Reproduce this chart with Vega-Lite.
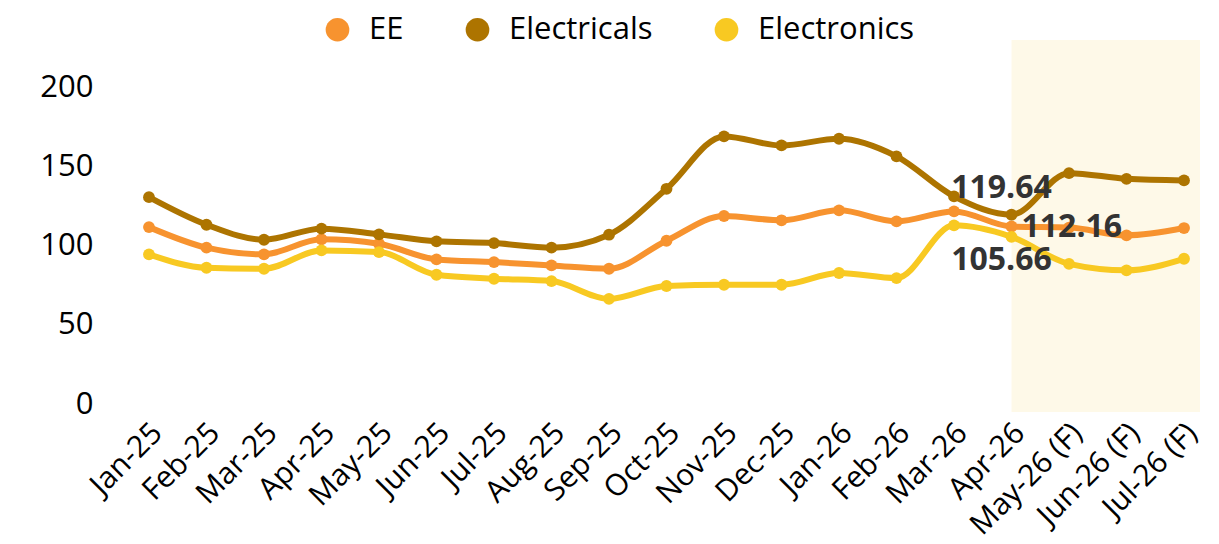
{
  "$schema": "https://vega.github.io/schema/vega-lite/v6.json",
  "width": 1067,
  "height": 372,
  "autosize": {"type": "none"},
  "padding": {"left": 133, "top": 40, "right": 19, "bottom": 132},
  "background": "white",
  "config": {"view": {"stroke": null}, "font": "Open Sans"},
  "datasets": {
    "main": [
      {"month": "Jan-25", "series": "EE", "value": 111.8},
      {"month": "Feb-25", "series": "EE", "value": 98.8},
      {"month": "Mar-25", "series": "EE", "value": 94.6},
      {"month": "Apr-25", "series": "EE", "value": 104.1},
      {"month": "May-25", "series": "EE", "value": 101.3},
      {"month": "Jun-25", "series": "EE", "value": 91.4},
      {"month": "Jul-25", "series": "EE", "value": 89.7},
      {"month": "Aug-25", "series": "EE", "value": 87.6},
      {"month": "Sep-25", "series": "EE", "value": 85.5},
      {"month": "Oct-25", "series": "EE", "value": 103.2},
      {"month": "Nov-25", "series": "EE", "value": 118.8},
      {"month": "Dec-25", "series": "EE", "value": 116.1},
      {"month": "Jan-26", "series": "EE", "value": 122.4},
      {"month": "Feb-26", "series": "EE", "value": 115.4},
      {"month": "Mar-26", "series": "EE", "value": 121.7},
      {"month": "Apr-26", "series": "EE", "value": 112.16},
      {"month": "May-26 (F)", "series": "EE", "value": 111.5},
      {"month": "Jun-26 (F)", "series": "EE", "value": 106.6},
      {"month": "Jul-26 (F)", "series": "EE", "value": 111.2},
      {"month": "Jan-25", "series": "Electricals", "value": 130.7},
      {"month": "Feb-25", "series": "Electricals", "value": 113.3},
      {"month": "Mar-25", "series": "Electricals", "value": 103.8},
      {"month": "Apr-25", "series": "Electricals", "value": 110.8},
      {"month": "May-25", "series": "Electricals", "value": 107.2},
      {"month": "Jun-25", "series": "Electricals", "value": 102.8},
      {"month": "Jul-25", "series": "Electricals", "value": 101.7},
      {"month": "Aug-25", "series": "Electricals", "value": 98.8},
      {"month": "Sep-25", "series": "Electricals", "value": 107.0},
      {"month": "Oct-25", "series": "Electricals", "value": 136.0},
      {"month": "Nov-25", "series": "Electricals", "value": 169.1},
      {"month": "Dec-25", "series": "Electricals", "value": 163.4},
      {"month": "Jan-26", "series": "Electricals", "value": 167.6},
      {"month": "Feb-26", "series": "Electricals", "value": 156.5},
      {"month": "Mar-26", "series": "Electricals", "value": 131.2},
      {"month": "Apr-26", "series": "Electricals", "value": 119.64},
      {"month": "May-26 (F)", "series": "Electricals", "value": 145.9},
      {"month": "Jun-26 (F)", "series": "Electricals", "value": 142.3},
      {"month": "Jul-26 (F)", "series": "Electricals", "value": 141.3},
      {"month": "Jan-25", "series": "Electronics", "value": 94.6},
      {"month": "Feb-25", "series": "Electronics", "value": 86.1},
      {"month": "Mar-25", "series": "Electronics", "value": 85.5},
      {"month": "Apr-25", "series": "Electronics", "value": 97.1},
      {"month": "May-25", "series": "Electronics", "value": 96.0},
      {"month": "Jun-25", "series": "Electronics", "value": 81.7},
      {"month": "Jul-25", "series": "Electronics", "value": 79.2},
      {"month": "Aug-25", "series": "Electronics", "value": 77.7},
      {"month": "Sep-25", "series": "Electronics", "value": 66.5},
      {"month": "Oct-25", "series": "Electronics", "value": 74.6},
      {"month": "Nov-25", "series": "Electronics", "value": 75.4},
      {"month": "Dec-25", "series": "Electronics", "value": 75.4},
      {"month": "Jan-26", "series": "Electronics", "value": 82.8},
      {"month": "Feb-26", "series": "Electronics", "value": 79.6},
      {"month": "Mar-26", "series": "Electronics", "value": 112.9},
      {"month": "Apr-26", "series": "Electronics", "value": 105.66},
      {"month": "May-26 (F)", "series": "Electronics", "value": 88.6},
      {"month": "Jun-26 (F)", "series": "Electronics", "value": 84.5},
      {"month": "Jul-26 (F)", "series": "Electronics", "value": 91.8}
    ],
    "forecast": [{"start": "Apr-26"}]
  },
  "layer": [
    {
      "data": {"name": "forecast"},
      "mark": {"type": "rect", "color": "#FEF9E8"},
      "encoding": {
        "x": {"field": "start", "type": "ordinal", "scale": {"type": "point", "padding": 0.278}, "sort": null, "title": null},
        "x2": {"value": "width"},
        "y": {"value": 0},
        "y2": {"value": "height"}
      }
    },
    {
      "data": {"name": "main"},
      "encoding": {
        "x": {
          "field": "month", "type": "ordinal", "title": null,
          "sort": ["Jan-25","Feb-25","Mar-25","Apr-25","May-25","Jun-25","Jul-25","Aug-25","Sep-25","Oct-25","Nov-25","Dec-25","Jan-26","Feb-26","Mar-26","Apr-26","May-26 (F)","Jun-26 (F)","Jul-26 (F)"],
          "scale": {"type": "point", "padding": 0.278},
          "axis": {"labelAngle": -45, "labelFontSize": 30, "labelColor": "#000000", "ticks": false, "domain": false, "grid": false, "labelPadding": 16, "labelOffset": 8}
        },
        "y": {
          "field": "value", "type": "quantitative", "title": null,
          "scale": {"domain": [-5, 230], "nice": false, "zero": false},
          "axis": {"values": [0, 50, 100, 150, 200], "labelFontSize": 31, "labelColor": "#000000", "ticks": false, "domain": false, "grid": false, "labelPadding": 40}
        },
        "color": {
          "field": "series", "type": "nominal", "title": null,
          "scale": {"domain": ["EE", "Electricals", "Electronics"], "range": ["#F7932F", "#AD7400", "#F8C922"]},
          "legend": {"orient": "none", "legendX": 189, "legendY": -26, "direction": "horizontal", "symbolType": "circle", "symbolSize": 560, "labelFontSize": 31, "labelColor": "#000000", "labelOffset": 16, "columnPadding": 58, "symbolStrokeWidth": 0}
        }
      },
      "layer": [
        {"mark": {"type": "line", "interpolate": "monotone", "strokeWidth": 6}},
        {"mark": {"type": "point", "filled": true, "size": 140, "opacity": 1}}
      ]
    },
    {
      "data": {"name": "main"},
      "transform": [{"filter": "datum.month == 'Apr-26' && datum.series == 'Electricals'"}],
      "mark": {"type": "text", "fontSize": 32, "fontWeight": "bold", "color": "#333333", "dx": -10, "dy": -27, "align": "center", "baseline": "middle"},
      "encoding": {
        "x": {"field": "month", "type": "ordinal", "sort": null},
        "y": {"field": "value", "type": "quantitative"},
        "text": {"field": "value", "type": "quantitative", "format": ".2f"}
      }
    },
    {
      "data": {"name": "main"},
      "transform": [{"filter": "datum.month == 'Apr-26' && datum.series == 'EE'"}],
      "mark": {"type": "text", "fontSize": 32, "fontWeight": "bold", "color": "#333333", "dx": 10, "dy": 0, "align": "left", "baseline": "middle"},
      "encoding": {
        "x": {"field": "month", "type": "ordinal", "sort": null},
        "y": {"field": "value", "type": "quantitative"},
        "text": {"field": "value", "type": "quantitative", "format": ".2f"}
      }
    },
    {
      "data": {"name": "main"},
      "transform": [{"filter": "datum.month == 'Apr-26' && datum.series == 'Electronics'"}],
      "mark": {"type": "text", "fontSize": 32, "fontWeight": "bold", "color": "#333333", "dx": -10, "dy": 23, "align": "center", "baseline": "middle"},
      "encoding": {
        "x": {"field": "month", "type": "ordinal", "sort": null},
        "y": {"field": "value", "type": "quantitative"},
        "text": {"field": "value", "type": "quantitative", "format": ".2f"}
      }
    }
  ]
}
